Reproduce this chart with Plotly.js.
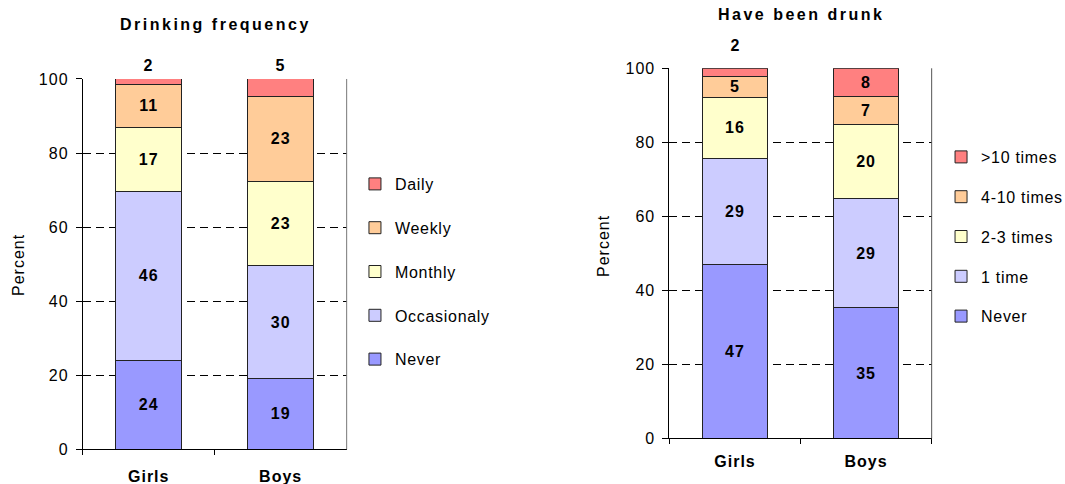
<!DOCTYPE html>
<html>
<head>
<meta charset="utf-8">
<script src="https://cdn.plot.ly/plotly-3.0.1.min.js"></script>
<style>
  html, body { margin: 0; padding: 0; background: #fff; }
  #chart { width: 1065px; height: 484px; }
  .js-plotly-plot text { letter-spacing: 1px; }
  .js-plotly-plot g.legend text, .js-plotly-plot g.legend2 text { letter-spacing: 0.7px; }
  .js-plotly-plot g.legend, .js-plotly-plot g.legend2,
  .js-plotly-plot g.legend .scrollbox, .js-plotly-plot g.legend2 .scrollbox { clip-path: none !important; }
</style>
</head>
<body>
<div id="chart"></div>
<script>
// ---------- DATA ----------
const categories = ['Girls', 'Boys'];

// Drinking frequency (percent, read from segment boundaries)
const freqNever       = [24.1, 19.2];
const freqOccasionaly = [45.5, 30.3];
const freqMonthly     = [17.3, 22.9];
const freqWeekly      = [11.7, 23.0];
const freqDaily       = [1.4, 4.6];
// printed labels
const freqNeverLbl       = [24, 19];
const freqOccasionalyLbl = [46, 30];
const freqMonthlyLbl     = [17, 23];
const freqWeeklyLbl      = [11, 23];
const freqDailyLbl       = [2, 5];

// Have been drunk
const drunkNever     = [47.1, 35.3];
const drunkOnce      = [28.6, 29.4];
const drunkTwoThree  = [16.5, 20.2];
const drunkFourTen   = [5.7, 7.4];
const drunkMoreTen   = [2.1, 7.7];
const drunkNeverLbl    = [47, 35];
const drunkOnceLbl     = [29, 29];
const drunkTwoThreeLbl = [16, 20];
const drunkFourTenLbl  = [5, 7];
const drunkMoreTenLbl  = [2, 8];

const yTicks = [0, 20, 40, 60, 80, 100];

// ---------- STYLE ----------
const FONT = 'Liberation Sans, Arial, Helvetica, sans-serif';
const C_NEVER = '#9999FF', C_2 = '#CCCCFF', C_3 = '#FFFFCC', C_4 = '#FFCC99', C_5 = '#FF8080';
const OUT_LIMIT = 5; // segments smaller than this get label above the bar

function mk(name, vals, labels, color, xa, ya, legend, rank) {
  return {
    type: 'bar', name: name, x: categories, y: vals,
    xaxis: xa, yaxis: ya, legend: legend, legendgroup: name + xa, legendrank: rank,
    marker: { color: color, line: { color: '#222', width: 1 } },
    text: labels.map((l, i) => vals[i] < OUT_LIMIT ? '' : String(l)),
    texttemplate: '%{text}',
    textposition: 'inside', insidetextanchor: 'middle', constraintext: 'none', textangle: 0,
    textfont: { family: FONT, size: 16, color: '#000', weight: 'bold' },
    hoverinfo: 'x+y+name'
  };
}

const traces = [
  mk('Never', freqNever, freqNeverLbl, C_NEVER, 'x', 'y', 'legend', 5),
  mk('Occasionaly', freqOccasionaly, freqOccasionalyLbl, C_2, 'x', 'y', 'legend', 4),
  mk('Monthly', freqMonthly, freqMonthlyLbl, C_3, 'x', 'y', 'legend', 3),
  mk('Weekly', freqWeekly, freqWeeklyLbl, C_4, 'x', 'y', 'legend', 2),
  mk('Daily', freqDaily, freqDailyLbl, C_5, 'x', 'y', 'legend', 1),
  mk('Never', drunkNever, drunkNeverLbl, C_NEVER, 'x2', 'y2', 'legend2', 5),
  mk('1 time', drunkOnce, drunkOnceLbl, C_2, 'x2', 'y2', 'legend2', 4),
  mk('2-3 times', drunkTwoThree, drunkTwoThreeLbl, C_3, 'x2', 'y2', 'legend2', 3),
  mk('4-10 times', drunkFourTen, drunkFourTenLbl, C_4, 'x2', 'y2', 'legend2', 2),
  mk('>10 times', drunkMoreTen, drunkMoreTenLbl, C_5, 'x2', 'y2', 'legend2', 1)
];

// outside labels for small top segments
function outsideAnns(series, labels, stackParts, xref, yref, shift) {
  const out = [];
  series.forEach((v, i) => {
    if (v < OUT_LIMIT) {
      const total = stackParts.reduce((s, arr) => s + arr[i], 0);
      out.push({
        x: categories[i], y: total, xref: xref, yref: yref, text: String(labels[i]),
        showarrow: false, yanchor: 'middle', yshift: shift,
        font: { family: FONT, size: 16, color: '#000', weight: 'bold' }
      });
    }
  });
  return out;
}

const freqParts = [freqNever, freqOccasionaly, freqMonthly, freqWeekly, freqDaily];
const drunkParts = [drunkNever, drunkOnce, drunkTwoThree, drunkFourTen, drunkMoreTen];

const axisFont = { family: FONT, size: 16, color: '#000' };
const catFont = { family: FONT, size: 16, color: '#000', weight: 'bold' };

function yAxis(domain, anchor) {
  return {
    domain: domain, anchor: anchor, range: [0, 100], tickvals: yTicks,
    showline: true, linecolor: '#000', linewidth: 1,
    ticks: 'outside', ticklen: 6, tickcolor: '#000', tickwidth: 1,
    showgrid: true, gridcolor: '#000', gridwidth: 1, griddash: '8px,5px',
    zeroline: false, tickfont: axisFont, ticklabelstandoff: 4, fixedrange: true
  };
}
function xAxis(domain, anchor, standoff) {
  return {
    domain: domain, anchor: anchor, type: 'category',
    showline: true, linecolor: '#000', linewidth: 1,
    ticks: 'outside', ticklen: 5, tickcolor: '#000', tickson: 'boundaries',
    showgrid: false, zeroline: false, tickfont: catFont, ticklabelstandoff: standoff, fixedrange: true
  };
}

const layout = {
  width: 1065, height: 484,
  margin: { l: 0, r: 0, t: 0, b: 0 },
  paper_bgcolor: '#fff', plot_bgcolor: '#fff',
  barmode: 'stack', bargap: 0.5,
  font: { family: FONT, size: 16, color: '#000' },
  xaxis: xAxis([0.0777, 0.3255], 'y', 13),
  yaxis: yAxis([0.0717, 0.8368], 'x'),
  xaxis2: xAxis([0.6286, 0.8748], 'y2', 8),
  yaxis2: yAxis([0.0944, 0.8589], 'x2'),
  legend: {
    x: 0.3333, y: 1 - 167 / 484, xanchor: 'left', yanchor: 'top',
    traceorder: 'grouped', tracegroupgap: 20,
    font: { family: FONT, size: 16, color: '#000' }, bgcolor: 'rgba(0,0,0,0)'
  },
  legend2: {
    x: 0.8836, y: 1 - 140 / 484, xanchor: 'left', yanchor: 'top',
    traceorder: 'grouped', tracegroupgap: 16,
    font: { family: FONT, size: 16, color: '#000' }, bgcolor: 'rgba(0,0,0,0)'
  },
  shapes: [
    { type: 'line', xref: 'x domain', yref: 'y domain', x0: 1, x1: 1, y0: 0, y1: 1,
      line: { color: '#777', width: 1 } },
    { type: 'line', xref: 'x2 domain', yref: 'y2 domain', x0: 1, x1: 1, y0: 0, y1: 1,
      line: { color: '#555', width: 1 } }
  ],
  annotations: [
    { text: '<span style="letter-spacing:2.5px">Drinking frequency</span>', xref: 'paper', yref: 'paper',
      x: 215 / 1065, y: 1 - 25 / 484, xanchor: 'center', yanchor: 'middle', showarrow: false,
      font: { family: FONT, size: 16, color: '#000', weight: 'bold' } },
    { text: '<span style="letter-spacing:2.5px">Have been drunk</span>', xref: 'paper', yref: 'paper',
      x: 800.6 / 1065, y: 1 - 15 / 484, xanchor: 'center', yanchor: 'middle', showarrow: false,
      font: { family: FONT, size: 16, color: '#000', weight: 'bold' } },
    { text: 'Percent', xref: 'paper', yref: 'paper', x: 17.5 / 1065, y: 1 - 265 / 484,
      xanchor: 'center', yanchor: 'middle', textangle: -90, showarrow: false, font: axisFont },
    { text: 'Percent', xref: 'paper', yref: 'paper', x: 602.5 / 1065, y: 1 - 246 / 484,
      xanchor: 'center', yanchor: 'middle', textangle: -90, showarrow: false, font: axisFont }
  ]
    .concat(outsideAnns(freqDaily, freqDailyLbl, freqParts, 'x', 'y', 13))
    .concat(outsideAnns(drunkMoreTen, drunkMoreTenLbl, drunkParts, 'x2', 'y2', 23))
};

Plotly.newPlot('chart', traces, layout, { displayModeBar: false, staticPlot: true });
</script>
</body>
</html>
